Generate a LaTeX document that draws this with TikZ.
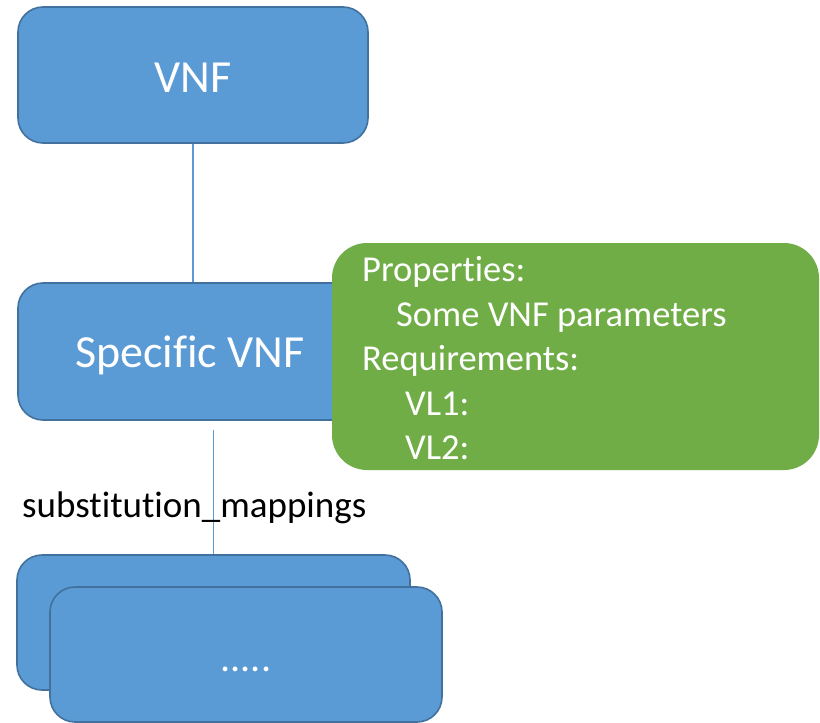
\documentclass[tikz,border=0pt]{standalone}
\usepackage{fontspec}
\setmainfont[Ligatures=NoCommon]{Carlito}
\definecolor{boxblue}{HTML}{5B9BD5}
\definecolor{boxedge}{HTML}{41719C}
\definecolor{boxgreen}{HTML}{70AD47}
\tikzset{
  bluebox/.style={draw=boxedge, line width=1.6pt, fill=boxblue, rounded corners=25pt,
    text=white, inner sep=0pt, minimum width=350pt, minimum height=136pt},
  greenbox/.style={fill=boxgreen, rounded corners=35pt, inner sep=0pt},
  gtext/.style={text=white, anchor=base west, inner sep=0pt, font=\fontsize{36.5}{43}\selectfont},
  conn/.style={draw=boxblue, line width=1.8pt},
  lbl/.style={text=black, anchor=base west, inner sep=0pt, font=\fontsize{37}{43}\selectfont}
}
\begin{document}
\begin{tikzpicture}[x=1pt, y=-1pt]
\useasboundingbox (0,0) rectangle (820,723);
% top VNF box
\node[bluebox, font=\fontsize{46}{55}\selectfont, text height=34pt, text depth=0pt] (vnf) at (193,75) {VNF};
% specific VNF box
\node[bluebox, minimum height=137pt, font=\fontsize{46}{54}\selectfont, text height=31pt, text depth=0pt] (spec) at (193,351.5) {\hspace*{-6pt}Specific VNF};
\draw[conn] (vnf.south) -- (spec.north);
% green property box
\node[greenbox, minimum width=487pt, minimum height=227pt] (props) at (575.5,356.5) {};
\node[gtext] (p1) at (362,281) {Properties:};
\node[gtext] (p2) at (396,326) {Some VNF parameters};
\node[gtext] (p3) at (362,370) {Requirements:};
\node[gtext] (p4) at (405,415) {VL1:};
\node[gtext] (p5) at (405,459) {VL2:};
% substitution mapping connector
\coordinate (sm) at (213.5,430);
\node[bluebox, minimum width=393pt, minimum height=135pt] (back) at (213.5,622.5) {};
\draw[conn] (sm) -- (back.north);
\node[lbl] (smlabel) at (22,517) {substitution\_mappings};
\node[bluebox, minimum width=392pt, minimum height=135pt, font=\fontsize{40}{48}\selectfont, text height=33pt, text depth=0pt] (front) at (246,654.5) {.....};
\end{tikzpicture}
\end{document}
